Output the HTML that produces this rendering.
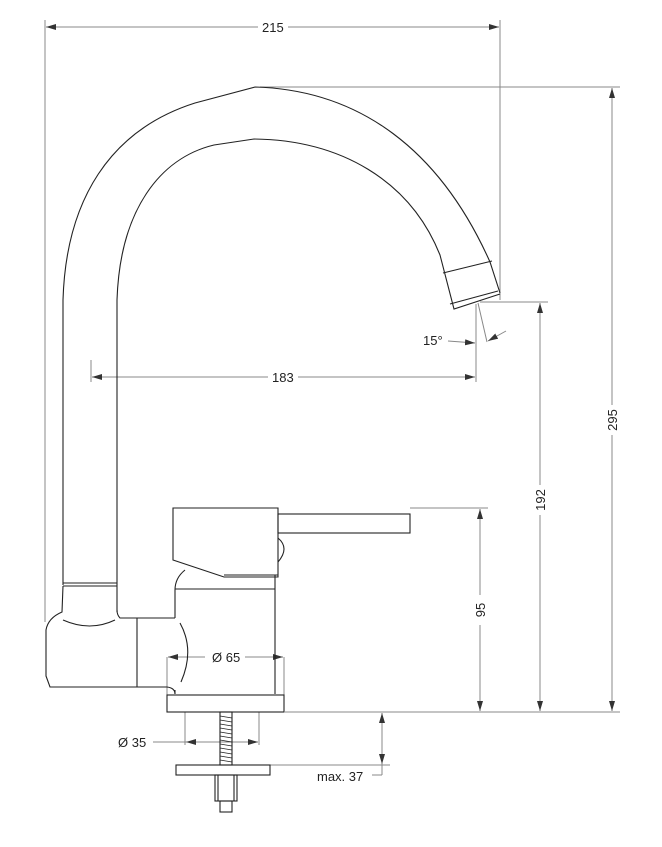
<!DOCTYPE html>
<html><head><meta charset="utf-8"><style>
html,body{margin:0;padding:0;background:#fff}
svg{display:block}
text{font-family:"Liberation Sans",sans-serif;font-size:13px;fill:#222}
</style></head><body>
<svg width="662" height="847" viewBox="0 0 662 847" xmlns="http://www.w3.org/2000/svg">
<defs>
<marker id="a" viewBox="0 0 10 6" refX="10" refY="3" markerWidth="10" markerHeight="6" orient="auto-start-reverse" markerUnits="userSpaceOnUse"><path d="M0,0 L10,3 L0,6 z" fill="#333"/></marker>
</defs>
<g fill="none" stroke="#888" stroke-width="1">
<!-- 215 -->
<line x1="45" y1="20" x2="45" y2="622"/>
<line x1="500" y1="20" x2="500" y2="300"/>
<line x1="46" y1="27" x2="258" y2="27" marker-start="url(#a)"/>
<line x1="288" y1="27" x2="499" y2="27" marker-end="url(#a)"/>
<!-- 295 -->
<line x1="260" y1="87" x2="620" y2="87"/>
<line x1="612" y1="88" x2="612" y2="405" marker-start="url(#a)"/>
<line x1="612" y1="435" x2="612" y2="711" marker-end="url(#a)"/>
<!-- 192 -->
<line x1="480" y1="302" x2="548" y2="302"/>
<line x1="540" y1="303" x2="540" y2="485" marker-start="url(#a)"/>
<line x1="540" y1="515" x2="540" y2="711" marker-end="url(#a)"/>
<!-- 95 -->
<line x1="410" y1="508" x2="488" y2="508"/>
<line x1="480" y1="509" x2="480" y2="595" marker-start="url(#a)"/>
<line x1="480" y1="625" x2="480" y2="711" marker-end="url(#a)"/>
<line x1="285" y1="712" x2="620" y2="712"/>
<!-- 183 -->
<line x1="91" y1="360" x2="91" y2="382"/>
<line x1="476" y1="304" x2="476" y2="382"/>
<line x1="92" y1="377" x2="268" y2="377" marker-start="url(#a)"/>
<line x1="298" y1="377" x2="475" y2="377" marker-end="url(#a)"/>
<!-- 15 -->
<line x1="478" y1="303" x2="487" y2="342"/>
<line x1="448" y1="341" x2="475" y2="343" marker-end="url(#a)"/>
<line x1="506" y1="331" x2="488" y2="341" marker-end="url(#a)"/>
<!-- 65 -->
<line x1="167" y1="657" x2="167" y2="695"/>
<line x1="284" y1="657" x2="284" y2="695"/>
<line x1="168" y1="657" x2="205" y2="657" marker-start="url(#a)"/>
<line x1="245" y1="657" x2="283" y2="657" marker-end="url(#a)"/>
<!-- 35 -->
<line x1="185" y1="712" x2="185" y2="745"/>
<line x1="259" y1="712" x2="259" y2="745"/>
<line x1="153" y1="742" x2="186" y2="742"/>
<line x1="186" y1="742" x2="258" y2="742" marker-start="url(#a)" marker-end="url(#a)"/>
<!-- max 37 -->
<line x1="270" y1="765" x2="390" y2="765"/>
<line x1="382" y1="713" x2="382" y2="764" marker-start="url(#a)" marker-end="url(#a)"/>
<line x1="372" y1="775" x2="382" y2="775"/>
<line x1="382" y1="764" x2="382" y2="775"/>
</g>
<g fill="none" stroke="#222" stroke-width="1.1">
<!-- spout -->
<path d="M63,585 L63,300 C66,200 110,130 195,103 L255,87 C360,90 440,150 490,262 L500,293"/>
<path d="M117,612 L117,300 C120,210 160,158 214,145 L254,139 C340,140 410,180 440,255 L454,309 L500,294"/>
<line x1="443" y1="273" x2="492" y2="261"/>
<line x1="450" y1="304" x2="498" y2="291"/>
<line x1="63" y1="583" x2="117" y2="583"/>
<line x1="63" y1="586" x2="117" y2="586"/>
<!-- swivel -->
<path d="M63,586 L62,612 Q48,618 46,630 L46,676 L50,687 L137,687 L137,618 L120,618 Q117,615 117,610"/>
<path d="M63,620 Q90,632 115,620"/>
<line x1="137" y1="618" x2="175" y2="618"/>
<path d="M137,687 L167,687 Q175,688 175,694"/>
<path d="M180,623 Q195,650 181,682"/>
<!-- body -->
<path d="M175,618 L175,590 Q175,578 185,570"/>
<line x1="175" y1="589" x2="275" y2="589"/>
<path d="M275,575 L275,694"/>
<path d="M175,694 L175,690"/>
<rect x="167" y="695" width="117" height="17"/>
<!-- handle -->
<path d="M173,508 L278,508 L278,577 L224,577 L173,560 Z"/>
<line x1="224" y1="575" x2="278" y2="575"/>
<rect x="278" y="514" width="132" height="19"/>
<path d="M278,538 Q290,548 278,562"/>
<!-- rod -->
<rect x="220" y="712" width="12" height="53"/>
<path d="M220,716 L232,718 M220,720 L232,722 M220,724 L232,726 M220,728 L232,730 M220,732 L232,734 M220,736 L232,738 M220,740 L232,742 M220,744 L232,746 M220,748 L232,750 M220,752 L232,754 M220,756 L232,758 M220,760 L232,762" stroke-width="0.8"/>
<rect x="176" y="765" width="94" height="10"/>
<rect x="215" y="775" width="22" height="26"/>
<line x1="218" y1="775" x2="218" y2="801"/><line x1="234" y1="775" x2="234" y2="801"/>
<rect x="220" y="801" width="12" height="11"/>
</g>
<text x="262" y="32">215</text>
<text x="272" y="382">183</text>
<text x="423" y="345">15°</text>
<text x="212" y="662">Ø 65</text>
<text x="118" y="747">Ø 35</text>
<text x="317" y="781">max. 37</text>
<text transform="translate(617,420) rotate(-90)" text-anchor="middle">295</text>
<text transform="translate(545,500) rotate(-90)" text-anchor="middle">192</text>
<text transform="translate(485,610) rotate(-90)" text-anchor="middle">95</text>
</svg>
</body></html>
